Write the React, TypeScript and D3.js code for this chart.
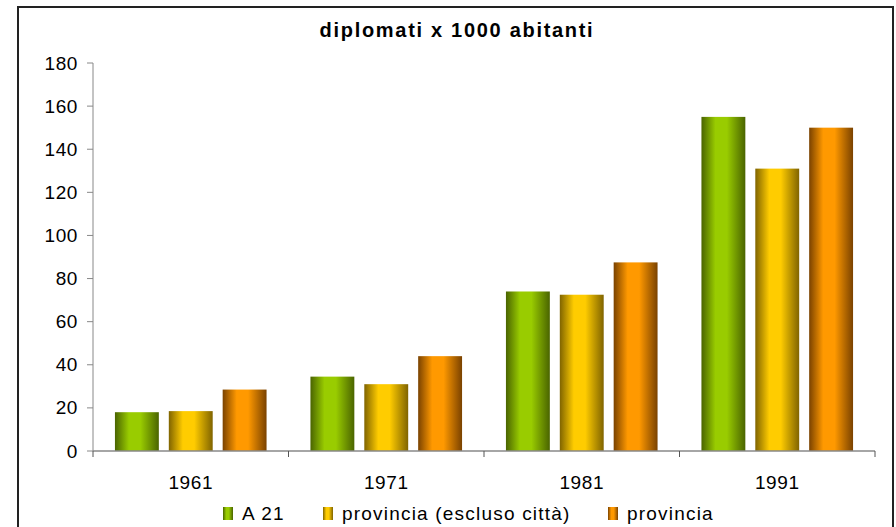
import React from "react";
import * as d3 from "d3";

const categories = ["1961", "1971", "1981", "1991"];
const seriesNames = ["A 21", "provincia (escluso città)", "provincia"];
const seriesA21 = [18, 34.5, 74, 155];
const seriesProvEscl = [18.5, 31, 72.5, 131];
const seriesProvincia = [28.5, 44, 87.5, 150];
const yTicks = [0, 20, 40, 60, 80, 100, 120, 140, 160, 180];
const title = "diplomati x 1000 abitanti";

const W = 896;
const H = 527;

const palettes = [
  { edge: "#4a6400", mid: "#99cc00" },
  { edge: "#806400", mid: "#ffcc00" },
  { edge: "#7a4200", mid: "#ff9900" },
];

export default function App() {
  const series = [seriesA21, seriesProvEscl, seriesProvincia];
  const x0 = d3.scaleBand<string>().domain(categories).range([93, 875]).paddingInner(0).paddingOuter(0);
  const x1 = d3.scaleBand<number>().domain([0, 1, 2]).range([0, x0.bandwidth()]).paddingInner(10 / 54).paddingOuter(22 / 54);
  const y = d3.scaleLinear().domain([0, 180]).range([451, 63]);
  const font = "'Liberation Sans', Arial, sans-serif";
  const base = y(0);

  const legendX = [223, 323, 608];

  return (
    <svg width={W} height={H} style={{ position: "absolute", left: 0, top: 0, background: "#fff" }} fontFamily={font}>
      <defs>
        {palettes.map((p, i) => (
          <linearGradient key={i} id={`g${i}`} x1="0" x2="1" y1="0" y2="0">
            <stop offset="0%" stopColor={p.edge} />
            <stop offset="32%" stopColor={p.mid} />
            <stop offset="58%" stopColor={p.mid} />
            <stop offset="100%" stopColor={p.edge} />
          </linearGradient>
        ))}
      </defs>
      <rect x={18} y={7} width={875} height={530} fill="#fff" stroke="#222" strokeWidth={2} />
      <text x={457} y={30} textAnchor="middle" dominantBaseline="central" fontWeight="bold" fontSize={20} letterSpacing={1.7}>
        {title}
      </text>
      {/* y axis */}
      <line x1={93} x2={93} y1={y(180)} y2={base} stroke="#888" strokeWidth={1} />
      {yTicks.map((t) => (
        <g key={t}>
          <line x1={87} x2={93} y1={y(t)} y2={y(t)} stroke="#888" />
          <text x={78} y={y(t)} textAnchor="end" dominantBaseline="central" fontSize={19} letterSpacing={0.6}>
            {t}
          </text>
        </g>
      ))}
      {/* bars */}
      {categories.map((c, ci) =>
        series.map((s, si) => (
          <rect
            key={`${ci}-${si}`}
            x={(x0(c) ?? 0) + (x1(si) ?? 0)}
            y={y(s[ci])}
            width={x1.bandwidth()}
            height={base - y(s[ci])}
            fill={`url(#g${si})`}
          />
        ))
      )}
      {/* x axis */}
      <line x1={93} x2={875} y1={base} y2={base} stroke="#888" strokeWidth={1.5} />
      {[...categories.map((c) => x0(c) ?? 0), 875].map((v, i) => (
        <line key={i} x1={v} x2={v} y1={base} y2={base + 6} stroke="#555" />
      ))}
      {categories.map((c) => (
        <text key={c} x={(x0(c) ?? 0) + x0.bandwidth() / 2} y={482} textAnchor="middle" dominantBaseline="central" fontSize={19} letterSpacing={0.6}>
          {c}
        </text>
      ))}
      {/* legend */}
      {seriesNames.map((n, i) => (
        <g key={n}>
          <rect x={legendX[i]} y={507} width={10} height={13} fill={`url(#g${i})`} />
          <text x={legendX[i] + 19} y={513.5} dominantBaseline="central" fontSize={19} letterSpacing={1.2}>
            {n}
          </text>
        </g>
      ))}
    </svg>
  );
}
